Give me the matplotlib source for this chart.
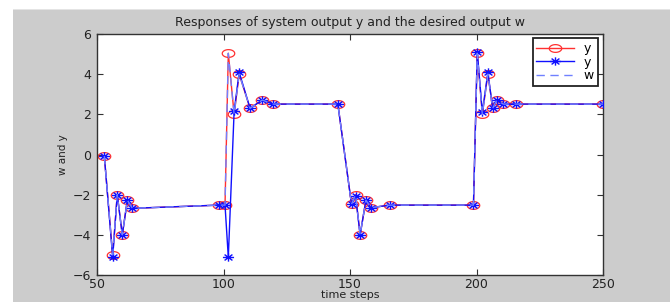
import matplotlib
matplotlib.use("Agg")
import matplotlib.pyplot as plt
from matplotlib.path import Path
from matplotlib.patches import Rectangle
import numpy as np

# ---- data ----
x_steps = [52.9, 56.2, 58.0, 60.0, 62.0, 64.0, 98.3, 100.6, 101.9, 104.2, 106.2,
           110.5, 115.3, 119.7, 145.2, 150.6, 152.2, 154.0, 156.3, 158.2, 165.8,
           198.8, 200.3, 202.3, 204.5, 206.4, 208.0, 210.6, 215.5, 250.0]
y_red = [-0.08, -5.0, -2.0, -4.0, -2.27, -2.68, -2.52, -2.52, 5.04, 2.0, 4.0,
         2.3, 2.71, 2.51, 2.51, -2.48, -2.0, -4.0, -2.27, -2.65, -2.52,
         -2.52, 5.04, 2.0, 4.0, 2.3, 2.71, 2.51, 2.51, 2.51]
y_blue = [-0.08, -5.12, -2.0, -4.0, -2.27, -2.68, -2.52, -2.52, -5.12, 2.15, 4.09,
          2.3, 2.71, 2.51, 2.51, -2.48, -2.07, -4.0, -2.27, -2.65, -2.52,
          -2.52, 5.12, 2.1, 4.09, 2.3, 2.71, 2.51, 2.51, 2.51]
w_desired = y_red
legend_labels = ["y", "y", "w"]
title_text = "Responses of system output y and the desired output w"
xlabel_text = "time steps"
ylabel_text = "w and y"
xticks = [50, 100, 150, 200, 250]
yticks = [-6, -4, -2, 0, 2, 4, 6]

# ---- markers (horizontally stretched like the reference) ----
t = np.linspace(0, 2 * np.pi, 40)
ellipse = Path(np.column_stack([np.cos(t), 0.62 * np.sin(t)]), closed=True)
ast_verts = []
ast_codes = []
for ang in [0, 45, 90, 135]:
    a = np.deg2rad(ang)
    dx, dy = np.cos(a), 0.75 * np.sin(a)
    ast_verts += [(-dx, -dy), (dx, dy)]
    ast_codes += [Path.MOVETO, Path.LINETO]
asterisk = Path(ast_verts, ast_codes)

plt.rcParams['font.family'] = ['DejaVu Sans']

fig = plt.figure(figsize=(6.70, 3.02), dpi=100)
fig.patch.set_facecolor('white')
fig.patches.append(Rectangle((13 / 670, 0), 1, 1 - 10 / 302, transform=fig.transFigure,
                             facecolor='#cccccc', edgecolor='none', zorder=-10))
fig.patches.append(Rectangle((13 / 670, 1 - 10 / 302), 1, 1.5 / 302, transform=fig.transFigure,
                             facecolor='#e4e4e4', edgecolor='none', zorder=-9))

ax = fig.add_axes([97 / 670, 1 - 275 / 302, 506 / 670, 241 / 302])
ax.set_facecolor('white')

ax.plot(x_steps, y_red, color='#ff3030', lw=1.0, marker=ellipse, ms=9,
        mfc='none', mec='#ff3030', mew=0.9, label=legend_labels[0], zorder=2)
ax.plot(x_steps, y_blue, color='#1010ff', lw=1.0, marker=asterisk, ms=8,
        mfc='none', mec='#1010ff', mew=1.0, label=legend_labels[1], zorder=3)
ax.plot(x_steps, w_desired, color='#7080ff', lw=1.0, ls=(0, (6, 4)),
        label=legend_labels[2], zorder=4)

ax.set_xlim(50, 250)
ax.set_ylim(-6, 6)
ax.set_xticks(xticks)
ax.set_yticks(yticks)
ax.tick_params(direction='in', length=4, width=0.8, top=True, right=True,
               labelsize=9, colors='#333333', labelcolor='#222222')
ax.tick_params(axis='x', pad=2)
ax.tick_params(axis='y', pad=4)
for s in ax.spines.values():
    s.set_color('#333333')
    s.set_linewidth(1.0)

ax.set_title(title_text, fontsize=9, color='#222222', pad=6)
ax.set_xlabel(xlabel_text, fontsize=8, color='#222222', labelpad=-0.5)
ax.set_ylabel(ylabel_text, fontsize=7.5, color='#222222', labelpad=4)

leg = ax.legend(loc='upper right', bbox_to_anchor=(0.99, 0.982), borderaxespad=0,
                fontsize=9, fancybox=False, framealpha=1, edgecolor='#222222',
                handlelength=3.0, labelspacing=0.05, borderpad=0.3, handletextpad=0.8)
leg.get_frame().set_linewidth(1.3)

fig.savefig('out.png', dpi=100, facecolor=fig.get_facecolor())
